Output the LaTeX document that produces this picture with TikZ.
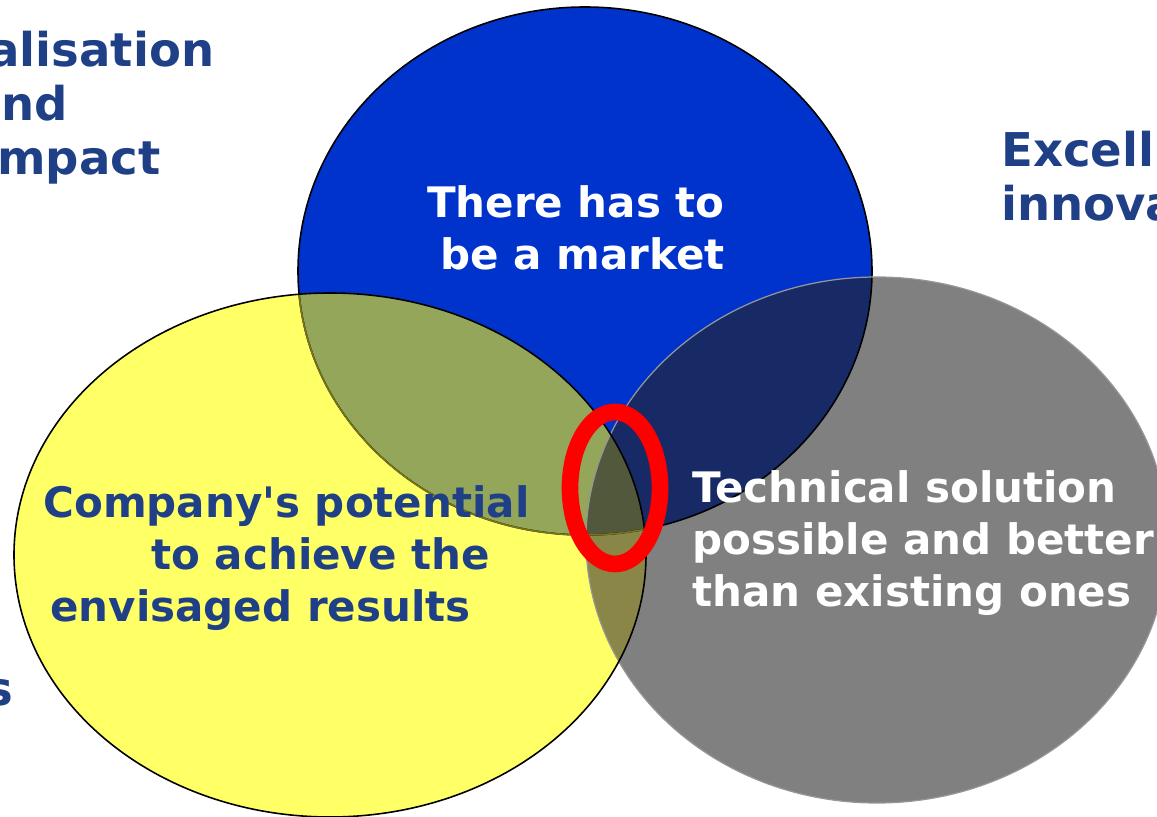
\documentclass[tikz,border=0pt]{standalone}
\usepackage{fontspec}
\setmainfont{DejaVu Sans}
\usepackage{xcolor}
\usepackage{tikz}
\pgfdeclarelayer{filllayer}
\pgfdeclarelayer{edgelayer}
\pgfsetlayers{filllayer,edgelayer,main}

\definecolor{marketblue}{RGB}{0,51,204}
\definecolor{potyellow}{RGB}{255,255,102}
\definecolor{techgray}{RGB}{128,128,128}
\definecolor{blueyellow}{RGB}{147,166,89}
\definecolor{bluegray}{RGB}{23,42,102}
\definecolor{yellowgray}{RGB}{138,134,72}
\definecolor{allthree}{RGB}{82,88,60}
\definecolor{headblue}{RGB}{31,64,134}
\definecolor{oliveedge}{RGB}{120,116,28}
\definecolor{grayedge}{RGB}{150,150,150}

\tikzset{
  bluesize/.style={x radius=5.74, y radius=5.28},
  yellowsize/.style={x radius=6.32, y radius=5.24},
  graysize/.style={x radius=5.82, y radius=5.26},
  bodytext/.style={font=\fontsize{23.9}{29.6}\selectfont\bfseries, inner sep=0pt},
  headtext/.style={font=\fontsize{26.5}{31}\selectfont\bfseries, text=headblue, inner sep=0pt}
}

\begin{document}
\begin{tikzpicture}
  \useasboundingbox (0, 0) rectangle (23.14, 16.34);
  \coordinate (b) at (11.70, 10.92);
  \coordinate (y) at (6.60, 5.24);
  \coordinate (g) at (17.54, 5.54);
  \coordinate (r) at (12.30, 6.58);
  \begin{pgfonlayer}{filllayer}
    \fill [marketblue] (b) ellipse [bluesize];
    \fill [potyellow] (y) ellipse [yellowsize];
    \fill [techgray] (g) ellipse [graysize];
    \begin{scope}
      \clip (y) ellipse [yellowsize];
      \fill [yellowgray] (g) ellipse [graysize];
    \end{scope}
    \begin{scope}
      \clip (b) ellipse [bluesize];
      \fill [blueyellow] (y) ellipse [yellowsize];
      \fill [bluegray] (g) ellipse [graysize];
      \clip (y) ellipse [yellowsize];
      \fill [allthree] (g) ellipse [graysize];
    \end{scope}
  \end{pgfonlayer}
  \begin{pgfonlayer}{edgelayer}
    \draw [line width=0.9pt] (b) ellipse [bluesize];
    \begin{scope}
      \clip (y) ellipse [yellowsize];
      \draw [oliveedge, line width=0.9pt] (b) ellipse [bluesize];
    \end{scope}
    \draw [grayedge, line width=0.7pt] (g) ellipse [graysize];
    \draw [line width=0.9pt] (y) ellipse [yellowsize];
    \draw [red, line width=9.5pt] (r) ellipse [x radius=0.90, y radius=1.52];
  \end{pgfonlayer}
  % base anchor sits on the last line
  \node [bodytext, text=white, align=right, anchor=base east] (0) at (14.50, 10.94) {There has to\\be a market};
  \node [bodytext, text=headblue, align=left, anchor=base west] (1) at (0.86, 3.90) {Company\textquotesingle s potential\\\hspace*{2.16cm}to achieve the\\\hspace*{0.14cm}envisaged results};
  \node [bodytext, text=white, align=left, anchor=base west] (2) at (13.84, 4.20) {Technical solution\\possible and better\\than existing ones};
  \node [headtext, align=left, anchor=base west] (3) at (0, 12.84) {\hspace*{-0.24cm}alisation\\\hspace*{0.02cm}nd\\\hspace*{-0.06cm}mpact};
  \node [headtext, align=left, anchor=base west] (4) at (20.02, 11.92) {Excell\\innova};
  \node [headtext, anchor=base east] (5) at (0.28, 2.22) {s};
\end{tikzpicture}
\end{document}
